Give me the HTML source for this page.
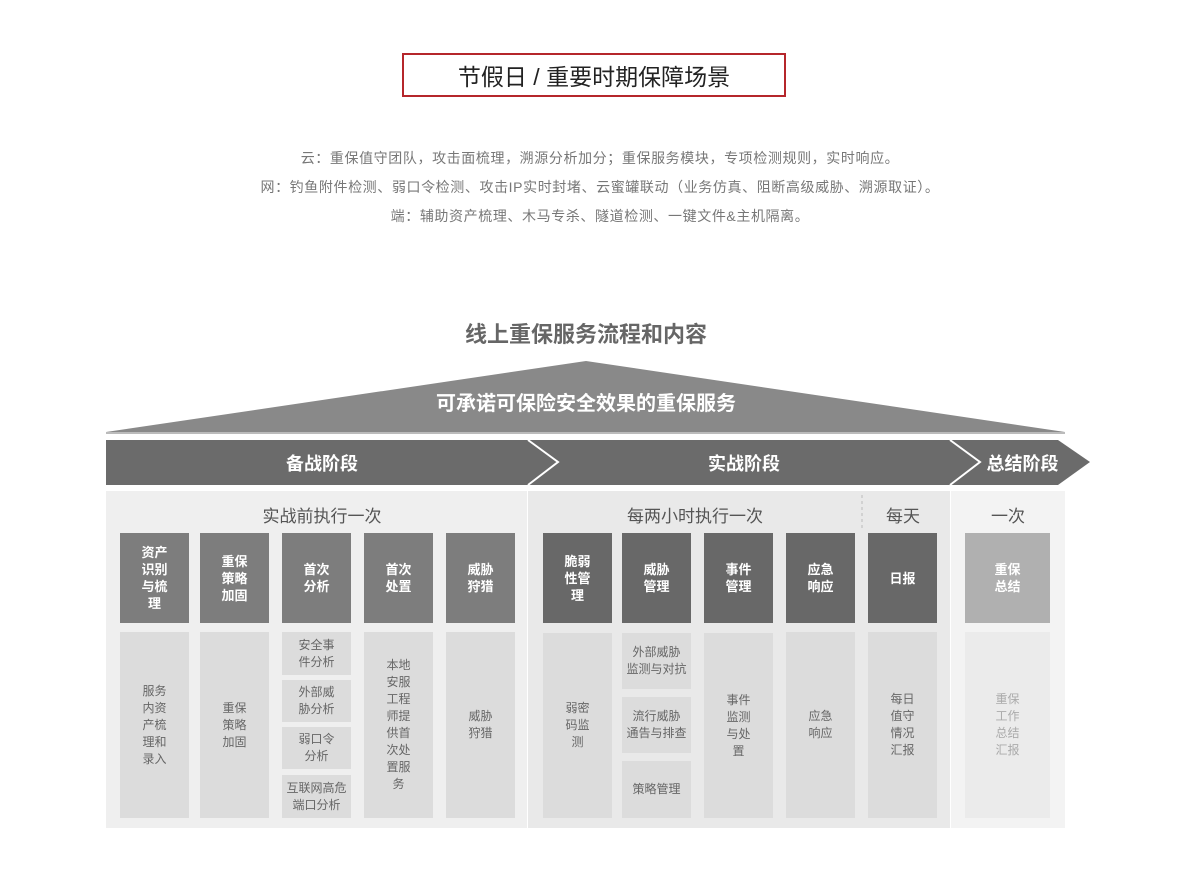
<!DOCTYPE html>
<html><head><meta charset="utf-8"><style>
body{margin:0;background:#fff;font-family:"Liberation Sans","Noto Sans CJK SC",sans-serif;}
#c{position:relative;width:1200px;height:893px;overflow:hidden;}
.a{position:absolute;box-sizing:border-box;display:flex;align-items:center;justify-content:center;text-align:center;}
.t{position:absolute;left:0;width:1200px;text-align:center;color:#777;font-size:14px;letter-spacing:0.6px;}
.top{color:#fff;font-size:13px;font-weight:bold;line-height:17px;}
.bot{background:#dcdcdc;color:#666;font-size:12px;line-height:17px;}
</style></head><body><div id="c">
<div class="a" style="left:402px;top:53px;width:384px;height:44px;border:2px solid #b5262b;font-size:23px;color:#222;">节假日 / 重要时期保障场景</div>
<div class="t" style="top:148px;">云：重保值守团队，攻击面梳理，溯源分析加分；重保服务模块，专项检测规则，实时响应。</div>
<div class="t" style="top:177px;">网：钓鱼附件检测、弱口令检测、攻击IP实时封堵、云蜜罐联动（业务仿真、阻断高级威胁、溯源取证）。</div>
<div class="t" style="top:206px;">端：辅助资产梳理、木马专杀、隧道检测、一键文件&amp;主机隔离。</div>
<div class="t" style="top:317px;font-size:22px;font-weight:bold;color:#666;left:-14px;letter-spacing:0;">线上重保服务流程和内容</div>
<svg style="position:absolute;left:0;top:0" width="1200" height="893">
<polygon points="586,361 1065,432 106,432" fill="#898989"/>
<line x1="106" y1="433" x2="1065" y2="433" stroke="#bbb" stroke-width="2"/>
<polygon points="106,440 1058,440 1090,462 1058,485 106,485" fill="#6b6b6b"/>
<polyline points="528,440 558,462 528,485" fill="none" stroke="#fff" stroke-width="2"/>
<polyline points="950,440 980,462 950,485" fill="none" stroke="#fff" stroke-width="2"/>
<rect x="106" y="491" width="421" height="337" fill="#efefef"/>
<rect x="528" y="491" width="422" height="337" fill="#e9e9e9"/>
<rect x="951" y="491" width="114" height="337" fill="#f3f3f3"/>
<line x1="862" y1="495" x2="862" y2="530" stroke="#bbb" stroke-dasharray="3,3"/>
</svg>
<div class="a" style="left:406px;top:387px;width:360px;height:28px;color:#fff;font-size:20px;font-weight:bold;">可承诺可保险安全效果的重保服务</div>
<div class="a" style="left:106px;top:440px;width:432px;height:45px;color:#fff;font-size:18px;font-weight:bold;">备战阶段</div>
<div class="a" style="left:528px;top:440px;width:432px;height:45px;color:#fff;font-size:18px;font-weight:bold;">实战阶段</div>
<div class="a" style="left:975px;top:440px;width:95px;height:45px;color:#fff;font-size:18px;font-weight:bold;">总结阶段</div>
<div class="a" style="left:106px;top:502px;width:432px;height:24px;font-size:17px;color:#555;">实战前执行一次</div>
<div class="a" style="left:528px;top:502px;width:334px;height:24px;font-size:17px;color:#555;">每两小时执行一次</div>
<div class="a" style="left:862px;top:502px;width:82px;height:24px;font-size:17px;color:#555;">每天</div>
<div class="a" style="left:951px;top:502px;width:114px;height:24px;font-size:17px;color:#555;">一次</div>

<div class="a top" style="left:120px;top:533px;width:69px;height:90px;background:#7d7d7d;">资产<br>识别<br>与梳<br>理</div>
<div class="a top" style="left:200px;top:533px;width:69px;height:90px;background:#7d7d7d;">重保<br>策略<br>加固</div>
<div class="a top" style="left:282px;top:533px;width:69px;height:90px;background:#7d7d7d;">首次<br>分析</div>
<div class="a top" style="left:364px;top:533px;width:69px;height:90px;background:#7d7d7d;">首次<br>处置</div>
<div class="a top" style="left:446px;top:533px;width:69px;height:90px;background:#7d7d7d;">威胁<br>狩猎</div>
<div class="a top" style="left:543px;top:533px;width:69px;height:90px;background:#686868;">脆弱<br>性管<br>理</div>
<div class="a top" style="left:622px;top:533px;width:69px;height:90px;background:#686868;">威胁<br>管理</div>
<div class="a top" style="left:704px;top:533px;width:69px;height:90px;background:#686868;">事件<br>管理</div>
<div class="a top" style="left:786px;top:533px;width:69px;height:90px;background:#686868;">应急<br>响应</div>
<div class="a top" style="left:868px;top:533px;width:69px;height:90px;background:#686868;">日报</div>
<div class="a top" style="left:965px;top:533px;width:85px;height:90px;background:#b0b0b0;">重保<br>总结</div>

<div class="a bot" style="left:120px;top:632px;width:69px;height:186px;">服务<br>内资<br>产梳<br>理和<br>录入</div>
<div class="a bot" style="left:200px;top:632px;width:69px;height:186px;">重保<br>策略<br>加固</div>
<div class="a bot" style="left:282px;top:632px;width:69px;height:43px;">安全事<br>件分析</div>
<div class="a bot" style="left:282px;top:680px;width:69px;height:42px;">外部威<br>胁分析</div>
<div class="a bot" style="left:282px;top:727px;width:69px;height:42px;">弱口令<br>分析</div>
<div class="a bot" style="left:282px;top:775px;width:69px;height:43px;">互联网高危<br>端口分析</div>
<div class="a bot" style="left:364px;top:632px;width:69px;height:186px;">本地<br>安服<br>工程<br>师提<br>供首<br>次处<br>置服<br>务</div>
<div class="a bot" style="left:446px;top:632px;width:69px;height:186px;">威胁<br>狩猎</div>
<div class="a bot" style="left:543px;top:633px;width:69px;height:185px;">弱密<br>码监<br>测</div>
<div class="a bot" style="left:622px;top:633px;width:69px;height:56px;">外部威胁<br>监测与对抗</div>
<div class="a bot" style="left:622px;top:697px;width:69px;height:56px;">流行威胁<br>通告与排查</div>
<div class="a bot" style="left:622px;top:761px;width:69px;height:57px;">策略管理</div>
<div class="a bot" style="left:704px;top:633px;width:69px;height:185px;">事件<br>监测<br>与处<br>置</div>
<div class="a bot" style="left:786px;top:632px;width:69px;height:186px;">应急<br>响应</div>
<div class="a bot" style="left:868px;top:632px;width:69px;height:186px;">每日<br>值守<br>情况<br>汇报</div>
<div class="a bot" style="left:965px;top:632px;width:85px;height:186px;background:#ebebeb;color:#aaa;">重保<br>工作<br>总结<br>汇报</div>
</div></body></html>
